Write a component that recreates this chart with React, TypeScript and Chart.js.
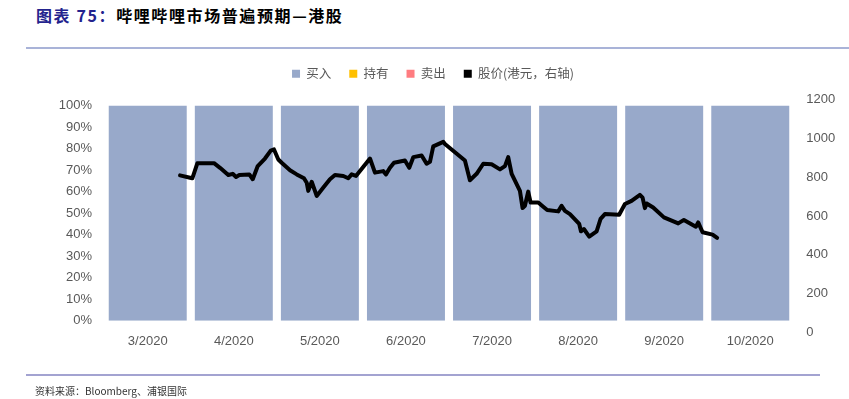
import React, { useEffect, useRef } from "react";
import { Chart, registerables } from "chart.js";

Chart.register(...registerables);

// ---- data ----
const categories = ["3/2020", "4/2020", "5/2020", "6/2020", "7/2020", "8/2020", "9/2020", "10/2020"];
const buyPct = [100, 100, 100, 100, 100, 100, 100, 100];
const holdPct = [0, 0, 0, 0, 0, 0, 0, 0];
const sellPct = [0, 0, 0, 0, 0, 0, 0, 0];

// position of each daily close in month units (0 = 3/2020 category)
const priceMonthPos = [
  0.375, 0.491, 0.518, 0.576, 0.77, 0.84, 0.936, 0.987, 1.026, 1.064, 1.18, 1.22, 1.278, 1.362, 1.429,
  1.467, 1.517, 1.556, 1.653, 1.731, 1.815, 1.847, 1.865, 1.905, 1.963, 2.04, 2.117, 2.175, 2.272, 2.33,
  2.369, 2.419, 2.582, 2.64, 2.736, 2.768, 2.814, 2.861, 2.988, 3.038, 3.085, 3.182, 3.24, 3.279, 3.317,
  3.433, 3.453, 3.685, 3.743, 3.821, 3.898, 3.995, 4.092, 4.15, 4.188, 4.228, 4.324, 4.355, 4.382, 4.42,
  4.448, 4.537, 4.595, 4.641, 4.769, 4.808, 4.847, 4.905, 5.013, 5.033, 5.067, 5.129, 5.215, 5.261, 5.311,
  5.477, 5.544, 5.621, 5.718, 5.749, 5.776, 5.796, 5.872, 5.997, 6.066, 6.163, 6.229, 6.368, 6.395, 6.446,
  6.562, 6.615,
];
const priceHKD = [
  810, 798, 795, 872, 873, 849, 812, 818, 802, 812, 815, 790, 858, 897, 938,
  944, 892, 875, 836, 815, 795, 772, 730, 777, 704, 747, 790, 812, 807, 795,
  815, 807, 897, 824, 832, 815, 849, 875, 887, 849, 904, 913, 870, 880, 960,
  983, 972, 887, 785, 818, 870, 867, 841, 858, 904, 818, 730, 641, 653, 726,
  670, 670, 648, 631, 624, 653, 627, 610, 559, 521, 533, 494, 521, 585, 610,
  607, 662, 678, 709, 695, 641, 665, 644, 593, 580, 562, 580, 545, 567, 516,
  504, 487,
];

const rightTickLabels = [0, 200, 400, 600, 800, 1000, 1200];
const rightAxisMin = 59.5;
const rightAxisMax = 1170.8;

const seriesNames = ["买入", "持有", "卖出", "股价(港元，右轴)"];
const seriesColors = ["#98A9CA", "#FFC000", "#FF7C80", "#000000"];

const AXIS_FONT = '"Liberation Sans", Arial, sans-serif';
const CJK_FONT = '"Noto Sans CJK SC", "Noto Sans", sans-serif';

const rightAxisLabels = {
  id: "rightAxisLabels",
  afterDraw(chart: any) {
    const s = chart.scales.y1;
    const ctx = chart.ctx;
    ctx.save();
    ctx.font = `13px ${AXIS_FONT}`;
    ctx.fillStyle = "#595959";
    ctx.textAlign = "left";
    ctx.textBaseline = "middle";
    rightTickLabels.forEach((v) => {
      ctx.fillText(String(v), chart.chartArea.right + 13, s.getPixelForValue(v));
    });
    ctx.restore();
  },
};

export default function App() {
  const ref = useRef<HTMLCanvasElement>(null);

  useEffect(() => {
    if (!ref.current) return;
    const linePoints = priceMonthPos.map((x, i) => ({ x, y: priceHKD[i] }));
    const barCommon = { type: "bar", borderWidth: 0, order: 2, xAxisID: "x", yAxisID: "y", stack: "pct", grouped: false };
    const chart = new Chart(ref.current, {
      type: "bar",
      data: {
        labels: categories,
        datasets: [
          { ...barCommon, label: seriesNames[0], data: buyPct, backgroundColor: seriesColors[0] } as any,
          { ...barCommon, label: seriesNames[1], data: holdPct, backgroundColor: seriesColors[1] } as any,
          { ...barCommon, label: seriesNames[2], data: sellPct, backgroundColor: seriesColors[2] } as any,
          {
            type: "line",
            label: seriesNames[3],
            data: linePoints as any,
            borderColor: seriesColors[3],
            backgroundColor: seriesColors[3],
            borderWidth: 4,
            pointRadius: 0,
            tension: 0,
            borderJoinStyle: "round",
            borderCapStyle: "round",
            order: 0,
            xAxisID: "xLine",
            yAxisID: "y1",
          } as any,
        ],
      },
      options: {
        responsive: false,
        animation: false,
        layout: { padding: { left: 58.7, right: 41.7, top: 49.4, bottom: 48.3 } },
        datasets: { bar: { categoryPercentage: 1, barPercentage: 0.906 } },
        scales: {
          x: {
            type: "category",
            stacked: true,
            grid: { display: false, drawTicks: false },
            border: { display: false },
            ticks: { color: "#595959", font: { family: AXIS_FONT, size: 13 }, padding: 12.5, maxRotation: 0, autoSkip: false },
            afterFit: (s: any) => { s.height = 30; },
          },
          xLine: {
            type: "linear",
            display: false,
            offset: false,
            grid: { offset: false },
            min: -0.5,
            max: categories.length - 0.5,
          },
          y: {
            type: "linear",
            position: "left",
            stacked: true,
            min: 0,
            max: 100,
            grid: { display: false, drawTicks: false },
            border: { display: false },
            ticks: {
              stepSize: 10,
              color: "#595959",
              font: { family: AXIS_FONT, size: 13 },
              padding: 12.7,
              callback: (v: any) => `${v}%`,
            },
            afterFit: (s: any) => { s.width = 46; },
          },
          y1: {
            type: "linear",
            position: "right",
            display: true,
            min: rightAxisMin,
            max: rightAxisMax,
            grid: { display: false, drawTicks: false },
            border: { display: false },
            ticks: { display: false },
            afterFit: (s: any) => { s.width = 14; },
          },
        },
        plugins: {
          tooltip: { enabled: false },
          title: { display: true, text: "", weight: 500, font: { size: 10, lineHeight: 1 }, padding: { top: 0, bottom: 5.6 } } as any,
          legend: {
            display: true,
            position: "top",
            labels: {
              boxWidth: 8,
              boxHeight: 8,
              padding: 18,
              color: "#595959",
              font: { family: CJK_FONT, size: 12.5 },
              generateLabels: (c: any) =>
                c.data.datasets.map((ds: any, i: number) => ({
                  text: ds.label,
                  fillStyle: seriesColors[i],
                  strokeStyle: seriesColors[i],
                  lineWidth: 0,
                  hidden: false,
                  datasetIndex: i,
                  fontColor: "#595959",
                })),
            },
          },
        },
      },
      plugins: [rightAxisLabels],
    });
    return () => chart.destroy();
  }, []);

  return (
    <div style={{ position: "absolute", left: 0, top: 0, width: 849, height: 399, background: "#fff", overflow: "hidden" }}>
      <div
        style={{
          position: "absolute",
          left: 36,
          top: 5,
          fontFamily: CJK_FONT,
          fontWeight: 700,
          fontSize: 16,
          lineHeight: "20px",
          letterSpacing: "1.6px",
          whiteSpace: "nowrap",
          color: "#000",
        }}
      >
        <span style={{ color: "#23238E" }}>图表 75：</span>哔哩哔哩市场普遍预期—港股
      </div>
      <div style={{ position: "absolute", left: 26, top: 47, width: 823, height: 2, background: "#A9B3D8" }} />
      <canvas ref={ref} width={849} height={399} style={{ position: "absolute", left: 0, top: 0 }} />
      <div style={{ position: "absolute", left: 26, top: 374, width: 794, height: 2, background: "#A3A3D1" }} />
      <div
        style={{
          position: "absolute",
          left: 35,
          top: 384,
          fontFamily: CJK_FONT,
          fontSize: 10,
          lineHeight: "14px",
          color: "#333",
          whiteSpace: "nowrap",
        }}
      >
        资料来源：Bloomberg、浦银国际
      </div>
    </div>
  );
}
